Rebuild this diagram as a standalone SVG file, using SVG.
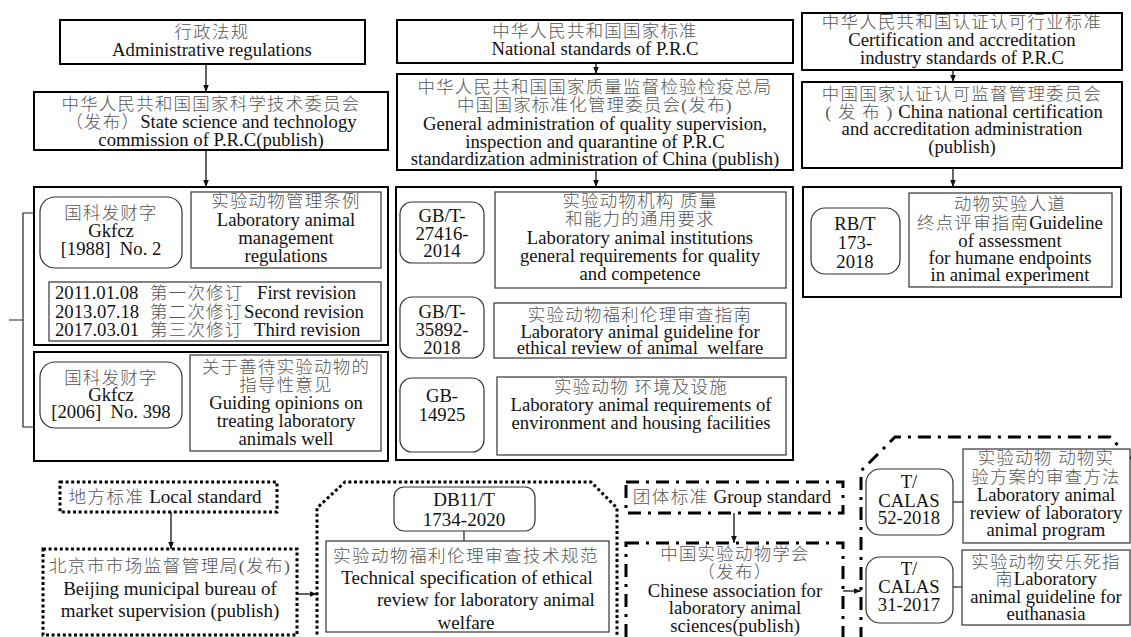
<svg xmlns="http://www.w3.org/2000/svg" width="1131" height="637" viewBox="0 0 1131 637">
<style>
.bg{fill:#fff}
.box{fill:#fff;stroke:#000;stroke-width:2}
.inner{fill:#fff;stroke:#333;stroke-width:1.2}
.dot{fill:#fff;stroke:#000;stroke-width:3;stroke-dasharray:3 2.6}
.dotp{fill:none;stroke:#000;stroke-width:3;stroke-dasharray:3 2.6}
.dd{fill:#fff;stroke:#000;stroke-width:3;stroke-dasharray:13 7 3 7}
.ddp{fill:none;stroke:#000;stroke-width:3;stroke-dasharray:13 7 3 7}
.ln{fill:none;stroke:#222;stroke-width:1.2}
.ar{fill:none;stroke:#111;stroke-width:1.3;marker-end:url(#ah)}
text{font-family:"Liberation Serif","Noto Sans CJK SC",serif;font-size:18.7px;fill:#111;text-anchor:middle}
.s{text-anchor:start}
.b{font-size:19px}
.zh{fill:#555;font-size:17.4px;letter-spacing:1.3px;font-weight:300}
.b.zh,.b .zh{font-size:17.6px;letter-spacing:1.4px}
</style>
<defs>
<marker id="ah" viewBox="0 0 10 10" refX="10" refY="5" markerWidth="7" markerHeight="7" markerUnits="userSpaceOnUse" orient="auto">
<path d="M0,1 L10,5 L0,9 z" fill="#111"/>
</marker>
</defs>
<rect class="bg" x="0" y="0" width="1131" height="637"/>

<g id="connectors">
<path class="ar" d="M206,64 V92"/>
<path class="ar" d="M206,150 V187"/>
<path class="ar" d="M596,63 V74"/>
<path class="ar" d="M596,170 V187"/>
<path class="ar" d="M953,70 V82"/>
<path class="ar" d="M953,168 V187"/>
<path class="ar" d="M171,512 V549"/>
<path class="ar" d="M297,594 H317"/>
<path class="ar" d="M734,513 V543"/>
<path class="ar" d="M843,591 H861"/>
<path class="ln" d="M182,233 H191"/>
<path class="ln" d="M182,395 H190"/>
<path class="ln" d="M484,232 H495"/>
<path class="ln" d="M484,328 H494"/>
<path class="ln" d="M484,415 H497"/>
<path class="ln" d="M900,242 H909"/>
<path class="ln" d="M464,531 V541"/>
<path class="ln" d="M953,502 H963"/>
<path class="ln" d="M953,587 H962"/>
<path class="ln" d="M33,213 H23 V427 H33 M9,320 H23"/>
</g>

<g id="admin-regulations">
<rect class="box" x="60" y="20" width="305" height="44"/>
<text x="212" y="38" class="zh">行政法规</text>
<text x="212" y="56">Administrative regulations</text>
</g>

<g id="state-science-commission">
<rect class="box" x="34" y="92" width="354" height="58"/>
<text x="211" y="110" class="zh">中华人民共和国国家科学技术委员会</text>
<text x="211" y="128"><tspan class="zh">（发布）</tspan>State science and technology</text>
<text x="211" y="146">commission of P.R.C(publish)</text>
</g>

<g id="lab-animal-management">
<rect class="box" x="34" y="187" width="354" height="158"/>
<rect class="inner" x="40" y="197" width="142" height="71" rx="15"/>
<text x="111" y="219" class="zh">国科发财字</text>
<text x="111" y="237">Gkfcz</text>
<text x="111" y="255">[1988]&#160; No. 2</text>
<rect class="inner" x="191" y="192" width="190" height="76"/>
<text x="286" y="207" class="zh">实验动物管理条例</text>
<text x="286" y="226">Laboratory animal</text>
<text x="286" y="244">management</text>
<text x="286" y="262">regulations</text>
<rect class="inner" x="49" y="282" width="332" height="59"/>
<text class="s" x="55" y="299">2011.01.08</text>
<text class="s zh" x="150" y="299">第一次修订</text>
<text class="s" x="257" y="299">First revision</text>
<text class="s" x="55" y="318">2013.07.18</text>
<text class="s zh" x="150" y="318">第二次修订</text>
<text class="s" x="244" y="318">Second revision</text>
<text class="s" x="55" y="336">2017.03.01</text>
<text class="s zh" x="150" y="336">第三次修订</text>
<text class="s" x="254" y="336">Third revision</text>
</g>

<g id="guiding-opinions">
<rect class="box" x="34" y="352" width="354" height="109"/>
<rect class="inner" x="40" y="362" width="142" height="66" rx="15"/>
<text x="111" y="384" class="zh">国科发财字</text>
<text x="111" y="401">Gkfcz</text>
<text x="111" y="418">[2006]&#160; No. 398</text>
<rect class="inner" x="190" y="355" width="191" height="96"/>
<text x="286" y="373" class="zh">关于善待实验动物的</text>
<text x="286" y="391" class="zh">指导性意见</text>
<text x="286" y="409">Guiding opinions on</text>
<text x="286" y="427">treating laboratory</text>
<text x="286" y="445">animals well</text>
</g>

<g id="national-standards">
<rect class="box" x="397" y="20" width="396" height="43"/>
<text x="595" y="37" class="zh">中华人民共和国国家标准</text>
<text x="595" y="55">National standards of P.R.C</text>
</g>

<g id="quality-supervision-admin">
<rect class="box" x="397" y="74" width="396" height="96"/>
<text x="595" y="93" class="zh">中华人民共和国国家质量监督检验检疫总局</text>
<text x="595" y="111"><tspan class="zh">中国国家标准化管理委员会(发布)</tspan></text>
<text x="595" y="130">General administration of quality supervision,</text>
<text x="595" y="148">inspection and quarantine of P.R.C</text>
<text x="595" y="165">standardization administration of China (publish)</text>
</g>

<g id="national-standard-list">
<rect class="box" x="396" y="187" width="397" height="273"/>
<rect class="inner" x="400" y="202" width="84" height="61" rx="12"/>
<text x="442" y="222">GB/T-</text>
<text x="442" y="240">27416-</text>
<text x="442" y="257">2014</text>
<rect class="inner" x="495" y="192" width="291" height="96"/>
<text x="640" y="207" class="zh">实验动物机构 质量</text>
<text x="640" y="225" class="zh">和能力的通用要求</text>
<text x="640" y="244">Laboratory animal institutions</text>
<text x="640" y="262">general requirements for quality</text>
<text x="640" y="280">and competence</text>
<rect class="inner" x="400" y="297" width="84" height="61" rx="12"/>
<text x="442" y="318">GB/T-</text>
<text x="442" y="336">35892-</text>
<text x="442" y="354">2018</text>
<rect class="inner" x="494" y="303" width="292" height="55"/>
<text x="640" y="321" class="zh">实验动物福利伦理审查指南</text>
<text x="640" y="338">Laboratory animal guideline for</text>
<text x="640" y="354">ethical review of animal&#160; welfare</text>
<rect class="inner" x="400" y="378" width="84" height="74" rx="12"/>
<text x="442" y="402">GB-</text>
<text x="442" y="421">14925</text>
<rect class="inner" x="497" y="377" width="289" height="78"/>
<text x="641" y="393" class="zh">实验动物 环境及设施</text>
<text x="641" y="411">Laboratory animal requirements of</text>
<text x="641" y="429">environment and housing facilities</text>
</g>

<g id="certification-standards">
<rect class="box" x="802" y="13" width="320" height="57"/>
<text x="962" y="28" class="zh">中华人民共和国认证认可行业标准</text>
<text x="962" y="46">Certification and accreditation</text>
<text x="962" y="64">industry standards of P.R.C</text>
</g>

<g id="cnca">
<rect class="box" x="802" y="82" width="320" height="86"/>
<text x="962" y="100" class="zh">中国国家认证认可监督管理委员会</text>
<text x="964" y="118"><tspan class="zh">( 发 布 )</tspan> China national certification</text>
<text x="962" y="135">and accreditation administration</text>
<text x="962" y="153">(publish)</text>
</g>

<g id="rbt-173">
<rect class="box" x="803" y="187" width="318" height="110"/>
<rect class="inner" x="811" y="208" width="89" height="66" rx="14"/>
<text x="855" y="230">RB/T</text>
<text x="855" y="249">173-</text>
<text x="855" y="268">2018</text>
<rect class="inner" x="909" y="193" width="203" height="94"/>
<text x="1010" y="210" class="zh">动物实验人道</text>
<text x="1010" y="229"><tspan class="zh">终点评审指南</tspan>Guideline</text>
<text x="1010" y="247">of assessment</text>
<text x="1010" y="264">for humane endpoints</text>
<text x="1010" y="281">in animal experiment</text>
</g>

<g id="local-standard">
<rect class="dot" x="60" y="482" width="217" height="30"/>
<text class="b" x="165" y="503"><tspan class="zh">地方标准</tspan> Local standard</text>
</g>

<g id="beijing-bureau">
<rect class="dot" x="43" y="549" width="254" height="86"/>
<text class="b" x="170" y="572"><tspan class="zh">北京市市场监督管理局(发布)</tspan></text>
<text class="b" x="170" y="595">Beijing municipal bureau of</text>
<text class="b" x="170" y="617">market supervision (publish)</text>
</g>

<g id="db11t-1734">
<path class="dotp" d="M317,640 V508 L345,482 H591 L617,508 V640"/>
<rect class="inner" x="394" y="487" width="141" height="44" rx="10"/>
<text class="b" x="464" y="506">DB11/T</text>
<text class="b" x="464" y="526">1734-2020</text>
<rect class="inner" x="326" y="541" width="283" height="91"/>
<text class="b zh" x="466" y="562">实验动物福利伦理审查技术规范</text>
<text class="b" x="467" y="584">Technical specification of ethical</text>
<text class="b s" x="377" y="606">review for laboratory animal</text>
<text class="b" x="466" y="629">welfare</text>
</g>

<g id="group-standard">
<rect class="dd" x="626" y="482" width="217" height="31"/>
<text class="b" x="732" y="503"><tspan class="zh">团体标准</tspan> Group standard</text>
</g>

<g id="calas">
<rect class="dd" x="626" y="543" width="217" height="100"/>
<text x="735" y="560" class="zh">中国实验动物学会</text>
<text x="735" y="578" class="zh">（发布）</text>
<text x="735" y="597">Chinese association for</text>
<text x="735" y="614">laboratory animal</text>
<text x="735" y="632">sciences(publish)</text>
</g>

<g id="group-standard-list">
<path class="ddp" d="M861,640 V471 L895,437 H1110 L1131,459"/>
<rect class="inner" x="866" y="469" width="87" height="66" rx="14"/>
<text x="909" y="488">T/</text>
<text x="909" y="507">CALAS</text>
<text x="909" y="524">52-2018</text>
<rect class="inner" x="963" y="449" width="167" height="94"/>
<text x="1046" y="464" class="zh">实验动物 动物实</text>
<text x="1046" y="483" class="zh">验方案的审查方法</text>
<text x="1046" y="501">Laboratory animal</text>
<text x="1046" y="519">review of laboratory</text>
<text x="1046" y="536">animal program</text>
<rect class="inner" x="866" y="557" width="87" height="66" rx="14"/>
<text x="909" y="575">T/</text>
<text x="909" y="593">CALAS</text>
<text x="909" y="611">31-2017</text>
<rect class="inner" x="962" y="550" width="168" height="75"/>
<text x="1046" y="568" class="zh">实验动物安乐死指</text>
<text x="1046" y="585"><tspan class="zh">南</tspan>Laboratory</text>
<text x="1046" y="603">animal guideline for</text>
<text x="1046" y="620">euthanasia</text>
</g>
</svg>
